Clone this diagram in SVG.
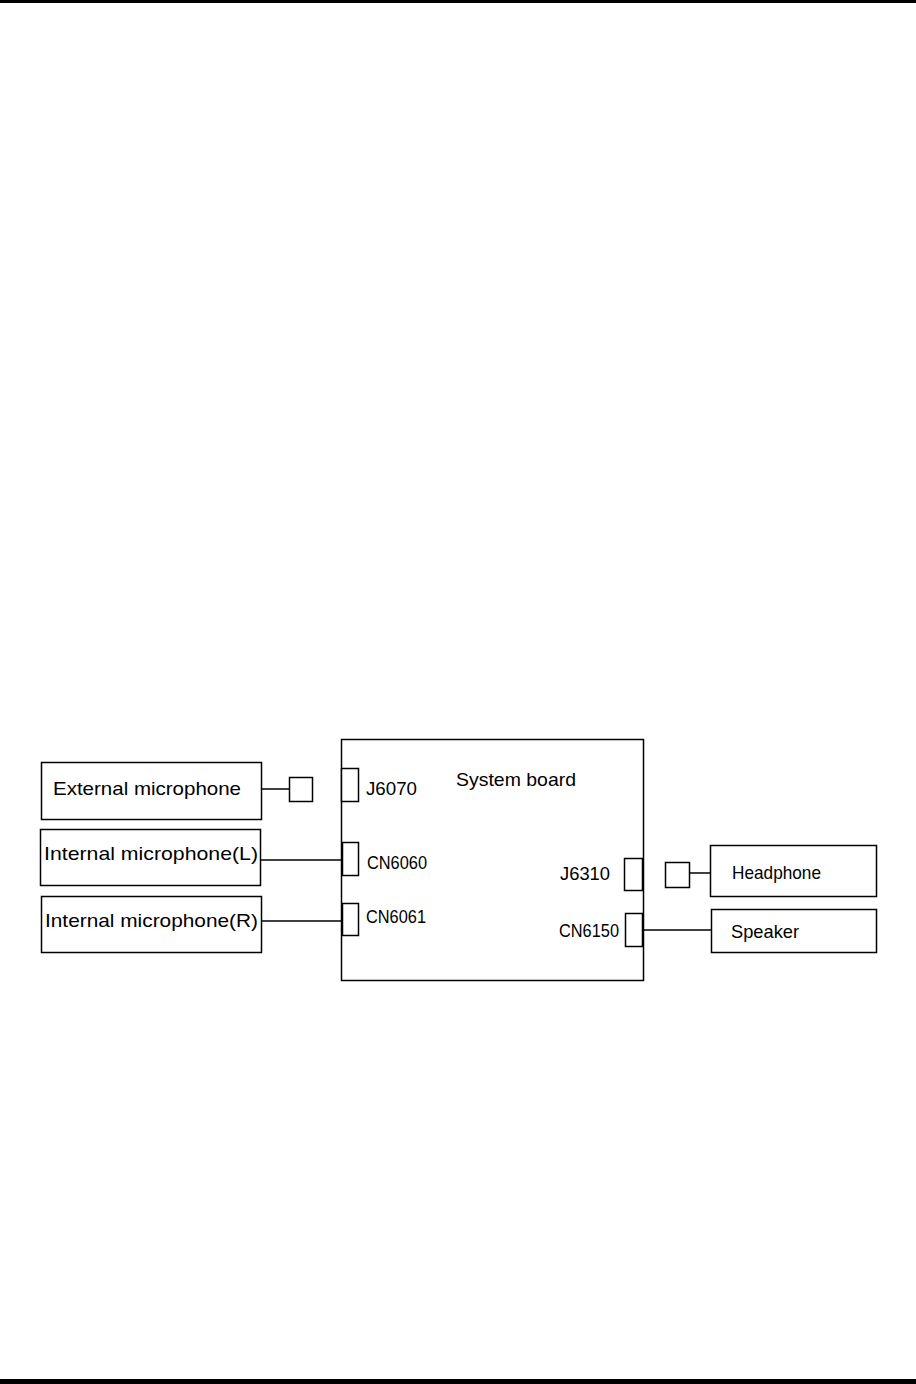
<svg xmlns="http://www.w3.org/2000/svg" width="916" height="1384" viewBox="0 0 916 1384">
<style>
.box{fill:#fff;stroke:#000;stroke-width:1.5}
.con{fill:#fff;stroke:#000;stroke-width:1.5}
.ln{stroke:#000;stroke-width:1.5;fill:none}
text{font-family:"Liberation Sans","DejaVu Sans",sans-serif;font-size:19px;fill:#000}
</style>
<rect x="0" y="0" width="916" height="1384" fill="#fff"/>
<rect x="0" y="0" width="916" height="3" fill="#000"/>
<rect x="0" y="1379" width="916" height="5" fill="#000"/>
<g id="connectors">
<line class="ln" x1="261" y1="789" x2="289" y2="789"/>
<line class="ln" x1="260" y1="860" x2="342" y2="860"/>
<line class="ln" x1="261" y1="921" x2="342" y2="921"/>
<line class="ln" x1="689" y1="873" x2="710" y2="873"/>
<line class="ln" x1="642" y1="930" x2="711" y2="930"/>
</g>
<g id="system-board">
<rect class="box" x="341.5" y="739.5" width="302" height="241"/>
<text x="456" y="786" textLength="120" lengthAdjust="spacingAndGlyphs">System board</text>
</g>
<g id="j6070">
<rect class="con" x="341.5" y="768.5" width="17" height="33"/>
<text x="366" y="795" textLength="51" lengthAdjust="spacingAndGlyphs">J6070</text>
</g>
<g id="cn6060">
<rect class="con" x="342.5" y="842.5" width="16" height="33"/>
<text x="367" y="869" textLength="60" lengthAdjust="spacingAndGlyphs">CN6060</text>
</g>
<g id="cn6061">
<rect class="con" x="342.5" y="903.5" width="16" height="32"/>
<text x="366" y="923" textLength="60" lengthAdjust="spacingAndGlyphs">CN6061</text>
</g>
<g id="j6310">
<rect class="con" x="624.5" y="858.5" width="18" height="32"/>
<text x="560" y="880" textLength="50" lengthAdjust="spacingAndGlyphs">J6310</text>
</g>
<g id="cn6150">
<rect class="con" x="625.5" y="913.5" width="17" height="33"/>
<text x="559" y="937" textLength="60" lengthAdjust="spacingAndGlyphs">CN6150</text>
</g>
<g id="external-microphone">
<rect class="box" x="41.5" y="762.5" width="220" height="57"/>
<text x="53" y="795" textLength="188" lengthAdjust="spacingAndGlyphs">External microphone</text>
<rect class="con" x="289.5" y="777.5" width="23" height="24"/>
</g>
<g id="internal-microphone-l">
<rect class="box" x="40.5" y="829.5" width="220" height="56"/>
<text x="44" y="860" textLength="214" lengthAdjust="spacingAndGlyphs">Internal microphone(L)</text>
</g>
<g id="internal-microphone-r">
<rect class="box" x="41.5" y="896.5" width="220" height="56"/>
<text x="45" y="927" textLength="213" lengthAdjust="spacingAndGlyphs">Internal microphone(R)</text>
</g>
<g id="headphone">
<rect class="con" x="665.5" y="862.5" width="24" height="25"/>
<rect class="box" x="710.5" y="845.5" width="166" height="51"/>
<text x="732" y="879" textLength="89" lengthAdjust="spacingAndGlyphs">Headphone</text>
</g>
<g id="speaker">
<rect class="box" x="711.5" y="909.5" width="165" height="43"/>
<text x="731" y="938" textLength="68" lengthAdjust="spacingAndGlyphs">Speaker</text>
</g>
</svg>
